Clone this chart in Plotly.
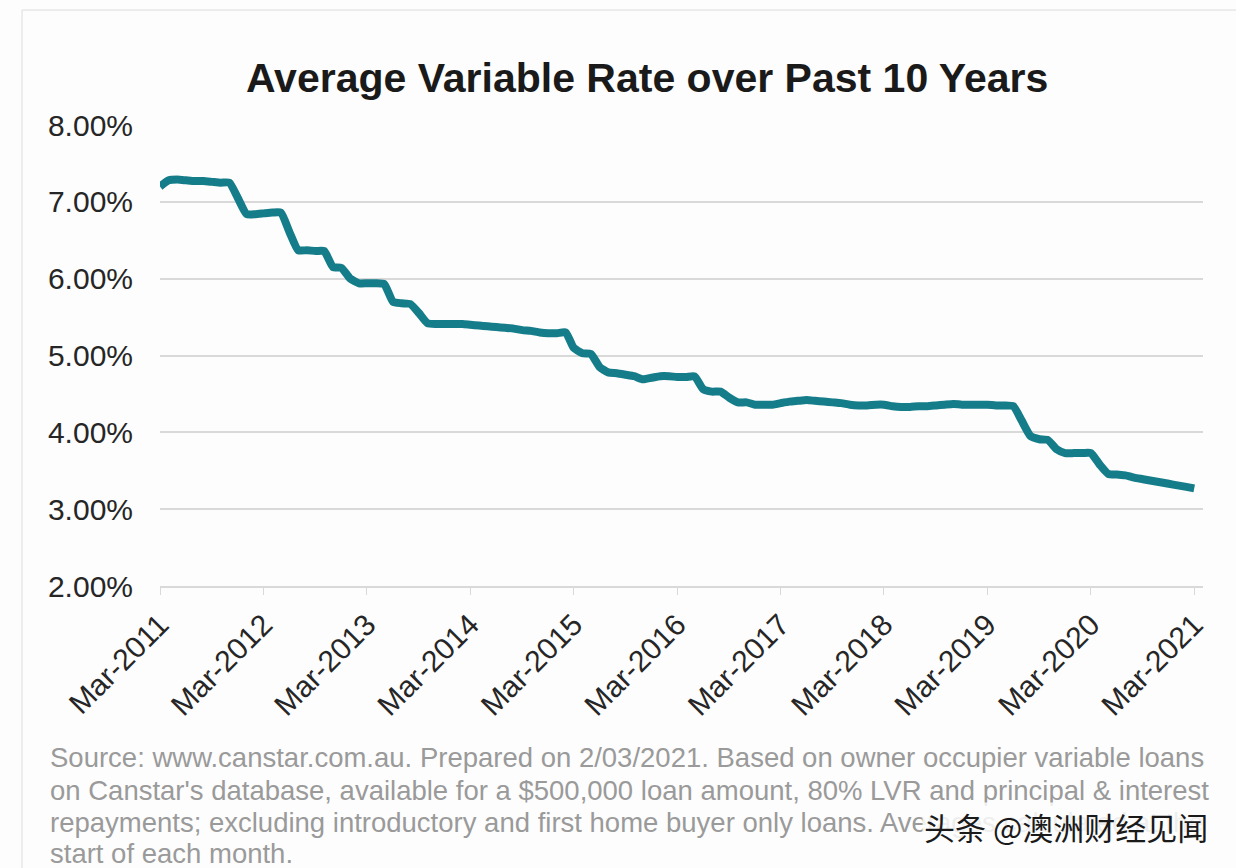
import pandas as pd
import plotly.graph_objects as go

# ---- data ----
months = pd.date_range("2011-03-01", periods=121, freq="MS")
rates = [
    7.20, 7.28, 7.29, 7.28, 7.27, 7.27, 7.26, 7.25, 7.25, 7.05,   # Mar11-Dec11
    6.84, 6.84, 6.85, 6.86, 6.86, 6.60, 6.37, 6.37, 6.36, 6.36,   # Jan12-Oct12
    6.15, 6.14, 6.00, 5.94, 5.94, 5.94, 5.93, 5.70, 5.68, 5.67,   # Nov12-Aug13
    5.55, 5.42, 5.41, 5.41, 5.41, 5.41, 5.40, 5.39, 5.38, 5.37,   # Sep13-Jun14
    5.36, 5.35, 5.33, 5.32, 5.30, 5.29, 5.29, 5.30, 5.10, 5.03,   # Jul14-Apr15
    5.02, 4.85, 4.78, 4.77, 4.75, 4.73, 4.69, 4.71, 4.73, 4.73,   # May15-Feb16
    4.72, 4.72, 4.73, 4.56, 4.53, 4.53, 4.45, 4.39, 4.39, 4.36,   # Mar16-Dec16
    4.36, 4.36, 4.38, 4.40, 4.41, 4.42, 4.41, 4.40, 4.39, 4.38,   # Jan17-Oct17
    4.36, 4.35, 4.35, 4.36, 4.36, 4.34, 4.33, 4.33, 4.34, 4.34,   # Nov17-Aug18
    4.35, 4.36, 4.37, 4.36, 4.36, 4.36, 4.36, 4.35, 4.35, 4.34,   # Sep18-Jun19
    4.15, 3.95, 3.91, 3.90, 3.78, 3.73, 3.73, 3.73, 3.73, 3.58,   # Jul19-Apr20
    3.46, 3.45, 3.44, 3.41, 3.39, 3.37, 3.35, 3.33, 3.31, 3.29,   # May20-Feb21
    3.27,                                                         # Mar21
]
tick_dates = pd.date_range("2011-03-01", periods=11, freq="12MS")
tick_labels = ["Mar-2011", "Mar-2012", "Mar-2013", "Mar-2014", "Mar-2015", "Mar-2016",
               "Mar-2017", "Mar-2018", "Mar-2019", "Mar-2020", "Mar-2021"]
y_ticks = [2, 3, 4, 5, 6, 7, 8]
y_tick_labels = ["2.00%", "3.00%", "4.00%", "5.00%", "6.00%", "7.00%", "8.00%"]

title_text = "Average Variable Rate over Past 10 Years"
footnote_lines = [
    "Source: www.canstar.com.au. Prepared on 2/03/2021. Based on owner occupier variable loans",
    "on Canstar's database, available for a $500,000 loan amount, 80% LVR and principal &amp; interest",
    "repayments; excluding introductory and first home buyer only loans. Averages calculated at the",
    "start of each month.",
]
watermark = "头条 @澳洲财经见闻"

fig = go.Figure()
fig.add_trace(go.Scatter(
    x=months, y=rates, mode="lines",
    line=dict(color="#157D89", width=8, shape="spline", smoothing=0.5),
    hoverinfo="skip", showlegend=False,
))

fig.update_layout(
    width=1236, height=868,
    margin=dict(l=160, r=33, t=125, b=282),
    paper_bgcolor="#fdfdfd", plot_bgcolor="#fdfdfd",
    font=dict(family="Liberation Sans, Arial, sans-serif", color="#262626"),
    showlegend=False,
)
fig.update_xaxes(
    range=[pd.Timestamp("2011-03-01"), pd.Timestamp("2021-04-01")],
    tickvals=tick_dates, ticktext=tick_labels, tickangle=-45,
    tickfont=dict(size=30, color="#262626"),
    showgrid=False, zeroline=False,
    showline=True, linecolor="#d9d9d9", linewidth=2,
    ticks="outside", ticklen=7, tickcolor="#d9d9d9", tickwidth=1,
)
fig.update_yaxes(
    range=[2, 8], tickvals=y_ticks, ticktext=y_tick_labels,
    tickfont=dict(size=30, color="#262626"),
    showgrid=True, gridcolor="#d9d9d9", gridwidth=1.5,
    zeroline=False, showline=False, ticks="", ticklabelstandoff=26,
)

# frame
fig.add_shape(type="rect", xref="paper", yref="paper",
              x0=(22 - 160) / 1043, x1=(1250 - 160) / 1043,
              y0=(586 - 880) / 461, y1=(586 - 10) / 461,
              line=dict(color="#dcdcdc", width=1), fillcolor="rgba(0,0,0,0)", layer="below")

fig.add_annotation(text="<b>" + title_text + "</b>", xref="paper", yref="paper",
                   x=(647 - 160) / 1043, y=(586 - 78) / 461, xanchor="center", yanchor="middle",
                   showarrow=False, font=dict(size=41, color="#1a1a1a"))

line_y_px = [757, 790, 822, 853]
for txt, ypx in zip(footnote_lines, line_y_px):
    fig.add_annotation(text=txt, xref="paper", yref="paper",
                       x=(48 - 160) / 1043, y=(586 - ypx) / 461, xanchor="left", yanchor="middle",
                       align="left", showarrow=False, font=dict(size=27.5, color="#9a9a9a"))

fig.add_annotation(text=watermark, xref="paper", yref="paper",
                   x=(1066 - 160) / 1043, y=(586 - 826) / 461, xanchor="center", yanchor="middle",
                   showarrow=False, bgcolor="rgba(253,253,253,0.85)",
                   font=dict(size=31, color="#1a1a1a", family="Noto Sans CJK SC"))

fig.write_html("out.html")
